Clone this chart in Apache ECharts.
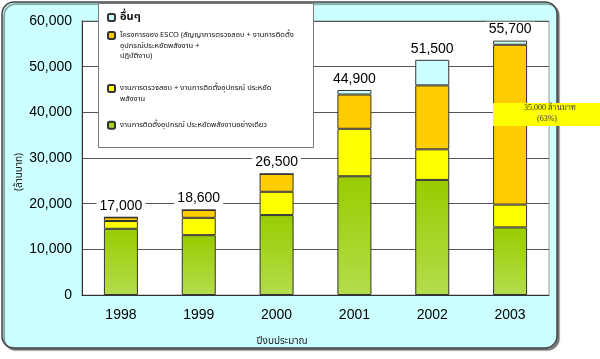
<!DOCTYPE html>
<html><head><meta charset="utf-8">
<script src="https://cdn.jsdelivr.net/npm/echarts@6/dist/echarts.min.js"></script>
<style>html,body{margin:0;padding:0;background:#fff}#c{width:600px;height:359px}</style>
</head><body><div id="c"></div>
<script>
const years = ['1998', '1999', '2000', '2001', '2002', '2003'];
const greenVals = [14500, 13100, 17500, 26000, 25200, 14800];
const yellowVals = [1700, 3800, 5100, 10400, 6700, 5000];
const orangeVals = [800, 1700, 3900, 7500, 14000, 35000];
const otherVals = [0, 0, 0, 1000, 5600, 900];
const totals = [17000, 18600, 26500, 44900, 51500, 55700];
const yTicks = [0, 10000, 20000, 30000, 40000, 50000, 60000];

const nameOther = 'อื่นๆ';
const nameEsco = 'โครงการของ ESCO (สัญญาการตรวจสอบ + งานการติดตั้ง\nอุปกรณ์ประหยัดพลังงาน +\nปฏิบัติงาน)';
const nameAudit = 'งานการตรวจสอบ + งานการติดตั้งอุปกรณ์ ประหยัด\nพลังงาน';
const nameInstall = 'งานการติดตั้งอุปกรณ์ ประหยัดพลังงานอย่างเดียว';

const thaiFont = "'Noto Sans Thai','Noto Serif Thai','Loma','Garuda','Tahoma','DejaVu Sans',sans-serif";
const serifFont = "'Liberation Serif','Noto Serif Thai','DejaVu Serif',serif";
const fmt = v => Number(v).toLocaleString('en-US');
const border = {borderColor: '#333', borderWidth: 1};

const chart = echarts.init(document.getElementById('c'), null, {renderer: 'canvas'});
function legendAt(name, top, blank, fs, lh, bold) {
  return {
    data: [name], orient: 'vertical', left: 107, top: top, padding: 0,
    itemWidth: 7, itemHeight: 7, selectedMode: false,
    formatter: n => '\n'.repeat(blank) + n,
    textStyle: {fontSize: fs, lineHeight: lh, color: '#111', fontFamily: thaiFont,
      fontWeight: bold ? 'bold' : 'normal'}
  };
}
chart.setOption({
  animation: false,
  graphic: [
    {type: 'rect', z: -10, shape: {x: 2, y: 2, width: 555, height: 346, r: 12},
      style: {fill: '#ccffff', stroke: '#444', lineWidth: 1.5,
        shadowColor: 'rgba(0,0,0,0.45)', shadowOffsetX: 2, shadowOffsetY: 2, shadowBlur: 1}},
    {type: 'rect', z: 3, shape: {x: 98.5, y: 3.5, width: 215, height: 144},
      style: {fill: '#fff', stroke: '#777', lineWidth: 1}},
    {type: 'rect', z: 10, shape: {x: 493, y: 103, width: 107, height: 23},
      style: {fill: '#ffff00'}},
    {type: 'text', z: 11, x: 550, y: 108,
      style: {text: '35,000 ล้านบาท', fontSize: 8, fill: '#333', align: 'center', verticalAlign: 'middle', fontFamily: serifFont}},
    {type: 'text', z: 11, x: 547, y: 119,
      style: {text: '(63%)', fontSize: 8, fill: '#333', align: 'center', verticalAlign: 'middle', fontFamily: serifFont}},
    {type: 'text', z: 5, x: 20, y: 172, rotation: Math.PI / 2,
      style: {text: '(ล้านบาท)', fontSize: 10, fill: '#222', align: 'center', verticalAlign: 'middle', fontFamily: thaiFont}},
    {type: 'text', z: 5, x: 282, y: 342,
      style: {text: 'ปีงบประมาณ', fontSize: 10, fill: '#222', align: 'center', verticalAlign: 'middle', fontFamily: thaiFont}}
  ],
  legend: [
    legendAt(nameOther, 10.5, 0, 11, 14, true),
    legendAt(nameEsco, 9.25, 2, 7.5, 10.5, false),
    legendAt(nameAudit, 72.75, 1, 7.5, 10.5, false),
    legendAt(nameInstall, 120, 0, 7.5, 10.5, false)
  ],
  grid: {left: 82, right: 51, top: 21, bottom: 64, show: true, backgroundColor: '#fff', borderColor: '#999', borderWidth: 1},
  xAxis: {
    type: 'category', data: years,
    axisLine: {lineStyle: {color: '#333'}},
    axisTick: {inside: true, length: 4, lineStyle: {color: '#666'}},
    axisLabel: {fontSize: 14, color: '#000', margin: 13, fontFamily: 'Liberation Sans, Arial, sans-serif'}
  },
  yAxis: {
    type: 'value', min: yTicks[0], max: yTicks[yTicks.length - 1], interval: yTicks[1] - yTicks[0],
    axisLine: {show: true, lineStyle: {color: '#333'}},
    axisTick: {show: false},
    splitLine: {lineStyle: {color: '#555', width: 1}},
    axisLabel: {fontSize: 14, color: '#000', margin: 10, formatter: fmt, fontFamily: 'Liberation Sans, Arial, sans-serif'}
  },
  series: [
    {name: nameInstall, type: 'bar', stack: 's', barWidth: 34, data: greenVals,
      itemStyle: Object.assign({color: {type: 'linear', x: 0, y: 0, x2: 0, y2: 1,
        colorStops: [{offset: 0, color: '#99cc00'}, {offset: 1, color: '#b5dc4c'}]}}, border)},
    {name: nameAudit, type: 'bar', stack: 's', barWidth: 34, data: yellowVals,
      itemStyle: Object.assign({color: '#ffff00'}, border)},
    {name: nameEsco, type: 'bar', stack: 's', barWidth: 34, data: orangeVals,
      itemStyle: Object.assign({color: '#ffcc00'}, border)},
    {name: nameOther, type: 'bar', stack: 's', barWidth: 34, data: otherVals,
      itemStyle: Object.assign({color: '#ccffff'}, border),
      label: {show: true, position: 'top', distance: 3, formatter: p => fmt(totals[p.dataIndex]),
        fontSize: 14, color: '#000', backgroundColor: '#fff', padding: [1, 3],
        fontFamily: 'Liberation Sans, Arial, sans-serif'}}
  ]
});
</script></body></html>
